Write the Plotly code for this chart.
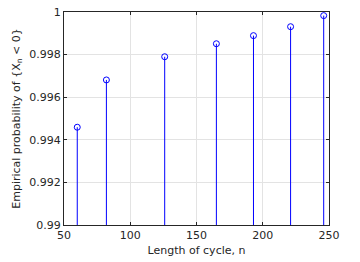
import plotly.graph_objects as go

cycle_length = [60, 82, 126, 165, 193, 221, 246]
probability = [0.99459, 0.99681, 0.99790, 0.99851, 0.99889, 0.99931, 0.99983]
base = 0.99

x_ticks = [50, 100, 150, 200, 250]
y_ticks = [0.99, 0.992, 0.994, 0.996, 0.998, 1.0]
y_tick_labels = ["0.99", "0.992", "0.994", "0.996", "0.998", "1"]

sx, sy = [], []
for xv, yv in zip(cycle_length, probability):
    sx += [xv, xv, None]
    sy += [base, yv, None]

fig = go.Figure()
fig.add_trace(go.Scatter(x=sx, y=sy, mode="lines",
                         line=dict(color="#0000ff", width=1), hoverinfo="skip",
                         showlegend=False))
fig.add_trace(go.Scatter(x=cycle_length, y=probability, mode="markers",
                         marker=dict(symbol="circle-open", size=6, color="#0000ff",
                                     line=dict(width=1, color="#0000ff")),
                         showlegend=False))

axis_common = dict(showline=True, linecolor="#262626", linewidth=1, mirror="ticks",
                   ticks="inside", ticklen=3, tickcolor="#262626",
                   showgrid=True, gridcolor="#e3e3e3", gridwidth=1, zeroline=False,
                   automargin=False,
                   tickfont=dict(family="DejaVu Sans", size=11, color="#262626"))

fig.update_layout(
    width=360, height=262,
    margin=dict(l=64, r=31, t=12, b=37),
    paper_bgcolor="white", plot_bgcolor="white",
    font=dict(family="DejaVu Sans", size=11, color="#262626"),
    xaxis=dict(range=[50, 250], tickvals=x_ticks,
               title=dict(text="Length of cycle, n", standoff=5,
                          font=dict(size=11)), **axis_common),
    yaxis=dict(range=[0.99, 1.0], tickvals=y_ticks, ticktext=y_tick_labels,
               title=dict(text="Empirical probability of {X<sub>n</sub> < 0}", standoff=6,
                          font=dict(size=11)), **axis_common),
)

fig.write_html("out.html", config={"displayModeBar": False},
               post_script="document.body.style.margin='0';document.body.style.overflow='hidden';")
